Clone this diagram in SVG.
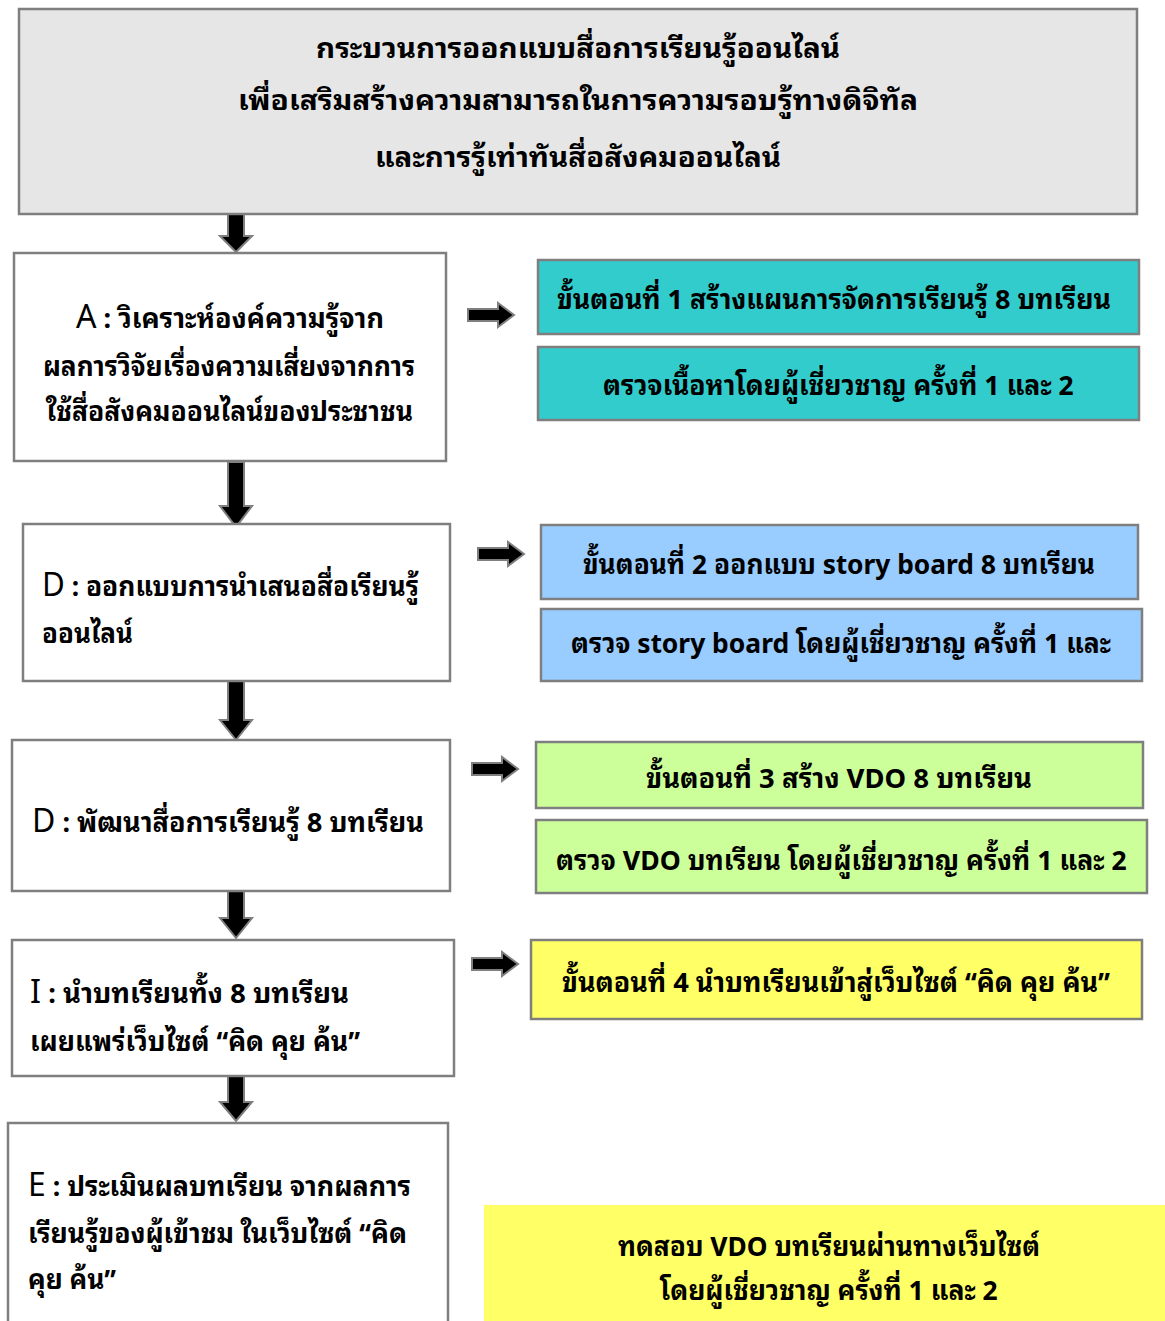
<svg xmlns="http://www.w3.org/2000/svg" width="1165" height="1321" viewBox="0 0 1165 1321">
<style>
text{font-family:"Noto Sans Thai Looped","Loma","Garuda","Noto Sans Thai","Noto Sans","DejaVu Sans",sans-serif;font-size:27px;font-weight:bold;fill:#000}
.c{text-anchor:middle}
.box{stroke:#7f7f7f;stroke-width:2.5}
.arr{fill:#000;stroke:#7f7f7f;stroke-width:2}
.big{font-size:32px;font-weight:normal}
</style>
<defs>
<path id="down" d="M-8,0 H8 V22 H16 L0,38 L-16,22 H-8 Z"/>
<path id="right" d="M0,-6 H30 V-12 L46,0 L30,12 V6 H0 Z"/>
</defs>
<rect width="1165" height="1321" fill="#fff"/>
<g id="connectors" class="arr">
<use href="#down" x="236" y="214"/>
<path d="M228,462 H244 V506 H252 L236,527 L220,506 H228 Z"/>
<path d="M228,681 H244 V720 H252 L236,740 L220,720 H228 Z"/>
<path d="M228,891 H244 V918 H252 L236,938 L220,918 H228 Z"/>
<path d="M228,1076 H244 V1102 H252 L236,1121 L220,1102 H228 Z"/>
<use href="#right" x="468" y="315"/>
<use href="#right" x="478" y="554"/>
<use href="#right" x="472" y="769"/>
<use href="#right" x="472" y="964"/>
</g>
<g id="title">
<rect class="box" x="19" y="9" width="1118" height="205" fill="#e6e6e6"/>
<text class="c" x="578" y="58" textLength="524" lengthAdjust="spacingAndGlyphs">กระบวนการออกแบบสื่อการเรียนรู้ออนไลน์</text>
<text class="c" x="578" y="110" textLength="680" lengthAdjust="spacingAndGlyphs">เพื่อเสริมสร้างความสามารถในการความรอบรู้ทางดิจิทัล</text>
<text class="c" x="578" y="167" textLength="406" lengthAdjust="spacingAndGlyphs">และการรู้เท่าทันสื่อสังคมออนไลน์</text>
</g>
<g id="nodeA">
<rect class="box" x="14" y="253" width="432" height="208" fill="#fff"/>
<text x="76" y="328" textLength="308" lengthAdjust="spacingAndGlyphs"><tspan class="big">A</tspan> : วิเคราะห์องค์ความรู้จาก</text>
<text x="43" y="376" textLength="372" lengthAdjust="spacingAndGlyphs">ผลการวิจัยเรื่องความเสี่ยงจากการ</text>
<text x="46" y="421" textLength="367" lengthAdjust="spacingAndGlyphs">ใช้สื่อสังคมออนไลน์ของประชาชน</text>
</g>
<g id="step1">
<rect class="box" x="538" y="260" width="601" height="74" fill="#33cccc"/>
<text x="557" y="309" textLength="554" lengthAdjust="spacingAndGlyphs">ขั้นตอนที่ 1 สร้างแผนการจัดการเรียนรู้ 8  บทเรียน</text>
</g>
<g id="check1">
<rect class="box" x="538" y="347" width="601" height="73" fill="#33cccc"/>
<text x="603" y="395" textLength="471" lengthAdjust="spacingAndGlyphs">ตรวจเนื้อหาโดยผู้เชี่ยวชาญ ครั้งที่ 1 และ 2</text>
</g>
<g id="nodeD1">
<rect class="box" x="23" y="524" width="427" height="157" fill="#fff"/>
<text x="42" y="596" textLength="377" lengthAdjust="spacingAndGlyphs"><tspan class="big">D</tspan> : ออกแบบการนำเสนอสื่อเรียนรู้</text>
<text x="42" y="643" textLength="91" lengthAdjust="spacingAndGlyphs">ออนไลน์</text>
</g>
<g id="step2">
<rect class="box" x="541" y="525" width="597" height="74" fill="#99ccff"/>
<text x="583" y="574" textLength="512" lengthAdjust="spacingAndGlyphs">ขั้นตอนที่ 2 ออกแบบ story board 8 บทเรียน</text>
</g>
<g id="check2">
<rect class="box" x="541" y="609" width="601" height="72" fill="#99ccff"/>
<text x="571" y="653" textLength="540" lengthAdjust="spacingAndGlyphs">ตรวจ story board โดยผู้เชี่ยวชาญ ครั้งที่ 1 และ</text>
</g>
<g id="nodeD2">
<rect class="box" x="12" y="740" width="438" height="151" fill="#fff"/>
<text x="32" y="832" textLength="392" lengthAdjust="spacingAndGlyphs"><tspan class="big">D</tspan> : พัฒนาสื่อการเรียนรู้  8 บทเรียน</text>
</g>
<g id="step3">
<rect class="box" x="536" y="742" width="607" height="66" fill="#ccff99"/>
<text x="646" y="788" textLength="386" lengthAdjust="spacingAndGlyphs">ขั้นตอนที่ 3 สร้าง VDO  8 บทเรียน</text>
</g>
<g id="check3">
<rect class="box" x="536" y="820" width="611" height="73" fill="#ccff99"/>
<text x="556" y="870" textLength="571" lengthAdjust="spacingAndGlyphs">ตรวจ VDO บทเรียน โดยผู้เชี่ยวชาญ ครั้งที่ 1 และ 2</text>
</g>
<g id="nodeI">
<rect class="box" x="12" y="940" width="442" height="136" fill="#fff"/>
<text x="30" y="1003" textLength="319" lengthAdjust="spacingAndGlyphs"><tspan class="big">I</tspan> :  นำบทเรียนทั้ง 8 บทเรียน</text>
<text x="30" y="1051" textLength="330" lengthAdjust="spacingAndGlyphs">เผยแพร่เว็บไซต์ “คิด คุย ค้น”</text>
</g>
<g id="step4">
<rect class="box" x="531" y="940" width="611" height="79" fill="#ffff66"/>
<text x="562" y="992" textLength="548" lengthAdjust="spacingAndGlyphs">ขั้นตอนที่ 4 นำบทเรียนเข้าสู่เว็บไซต์ “คิด คุย ค้น”</text>
</g>
<g id="nodeE">
<rect class="box" x="8" y="1123" width="440" height="210" fill="#fff"/>
<text x="28" y="1196" textLength="383" lengthAdjust="spacingAndGlyphs"><tspan class="big">E</tspan> : ประเมินผลบทเรียน จากผลการ</text>
<text x="28" y="1243" textLength="379" lengthAdjust="spacingAndGlyphs">เรียนรู้ของผู้เข้าชม ในเว็บไซต์ “คิด</text>
<text x="28" y="1289" textLength="88" lengthAdjust="spacingAndGlyphs">คุย ค้น”</text>
</g>
<g id="test">
<rect x="484" y="1205" width="690" height="130" fill="#ffff66"/>
<text x="618" y="1256" textLength="422" lengthAdjust="spacingAndGlyphs">ทดสอบ VDO บทเรียนผ่านทางเว็บไซต์</text>
<text x="660" y="1300" textLength="338" lengthAdjust="spacingAndGlyphs">โดยผู้เชี่ยวชาญ ครั้งที่ 1 และ 2</text>
</g>
</svg>
